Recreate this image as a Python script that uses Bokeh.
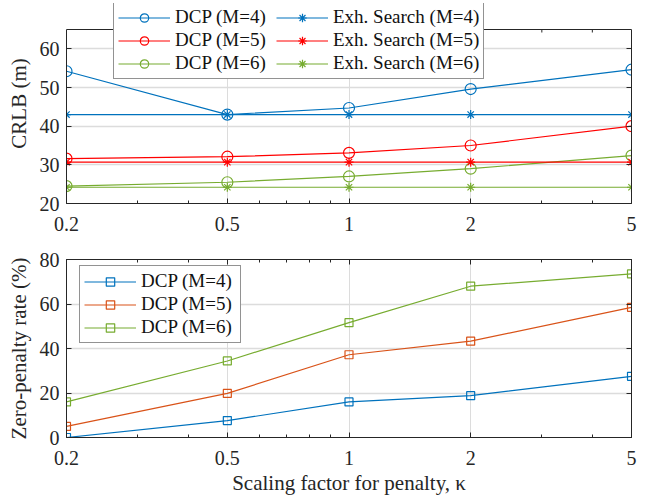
from math import pi
from bokeh.plotting import figure
from bokeh.models import (FixedTicker, LogAxis, LinearAxis, Legend, LegendItem,
                          CustomJSTickFormatter, Span)
from bokeh.layouts import column
from bokeh.embed import file_html
from bokeh.resources import INLINE

# ---------------- data ----------------
kappa = [0.2, 0.5, 1, 2, 5]
kappa_minor = [0.3, 0.4, 0.6, 0.7, 0.8, 0.9, 3, 4]

crlb_dcp_m4 = [54.2, 43.0, 44.7, 49.6, 54.6]
crlb_dcp_m5 = [31.6, 32.1, 33.1, 35.0, 40.0]
crlb_dcp_m6 = [24.5, 25.5, 27.0, 29.0, 32.4]
crlb_exh_m4 = [43.0, 43.0, 43.0, 43.0, 43.0]
crlb_exh_m5 = [30.7, 30.7, 30.7, 30.7, 30.7]
crlb_exh_m6 = [24.2, 24.2, 24.2, 24.2, 24.2]

zp_m4 = [0.0, 7.6, 16.0, 18.8, 27.5]
zp_m5 = [5.0, 19.8, 37.2, 43.3, 58.5]
zp_m6 = [16.0, 34.4, 51.6, 68.0, 73.5]

crlb_ticks = [20, 30, 40, 50, 60]
crlb_lim = (20, 65)
zp_ticks = [0, 20, 40, 60, 80]
zp_lim = (0, 80)

BLUE, RED, GREEN, ORANGE = "#0072BD", "#FF0000", "#77AC30", "#D95319"
FONT = "Liberation Serif"
TXT = "#262626"
GRID = "#dcdcdc"

fmt = CustomJSTickFormatter(code="return String(tick);")
blank = CustomJSTickFormatter(code="return '';")


def style_axis(ax, hide_labels=False):
    ax.major_label_text_font = FONT
    ax.major_label_text_font_size = "20px"
    ax.major_label_text_color = TXT
    ax.major_label_standoff = 0 if hide_labels else 7
    ax.axis_label_text_font = FONT
    ax.axis_label_text_font_size = "21px"
    ax.axis_label_text_font_style = "normal"
    ax.axis_label_text_color = TXT
    ax.axis_line_color = TXT
    ax.major_tick_line_color = TXT
    ax.minor_tick_line_color = TXT
    ax.major_tick_in = 5
    ax.major_tick_out = 0
    ax.minor_tick_in = 3
    ax.minor_tick_out = 0
    if hide_labels:
        ax.formatter = blank


def base_fig(y_end, yticks, frame_h, top, bottom, ylabel):
    p = figure(x_axis_type="log", x_range=(kappa[0], kappa[-1]),
               y_range=(yticks[0], y_end),
               frame_width=565, frame_height=frame_h,
               min_border_left=66, min_border_right=18,
               min_border_top=top, min_border_bottom=bottom,
               output_backend="svg", toolbar_location=None)
    xt = FixedTicker(ticks=kappa, minor_ticks=kappa_minor)
    yt = FixedTicker(ticks=yticks, minor_ticks=[])
    p.xaxis.ticker = xt
    p.xaxis.formatter = fmt
    p.yaxis.ticker = yt
    p.ygrid.ticker = yt
    for ax in list(p.xaxis) + list(p.yaxis):
        style_axis(ax)
    p.xaxis.major_label_standoff = 13
    p.yaxis.axis_label = ylabel
    p.yaxis.axis_label_standoff = 6
    p.yaxis.minor_tick_line_color = None
    p.xgrid.grid_line_color = GRID
    p.xgrid.grid_line_width = 1
    p.ygrid.grid_line_color = GRID
    p.ygrid.grid_line_width = 1.5
    p.background_fill_color = "white"
    p.border_fill_color = "white"
    ra = LinearAxis(ticker=yt)
    style_axis(ra, hide_labels=True)
    ra.minor_tick_line_color = None
    p.add_layout(ra, "right")
    return p, xt, yt, ra


def style_legend(lg, label_w):
    lg.label_text_font = FONT
    lg.label_text_font_size = "19px"
    lg.label_text_color = "#111111"
    lg.border_line_color = TXT
    lg.border_line_width = 1
    lg.background_fill_color = "white"
    lg.background_fill_alpha = 1.0
    lg.glyph_width = 52
    lg.glyph_height = 21
    lg.label_height = 21
    lg.label_width = label_w
    lg.label_standoff = 5
    lg.spacing = 1
    lg.padding = 4
    lg.margin = 0


# ---------------- top: CRLB ----------------
# frame extends 26 px above the axes box so the legend can overlap the box top
top_frame_h = 200
box_h = 174
crlb_y_end = crlb_lim[0] + (crlb_lim[1] - crlb_lim[0]) * top_frame_h / box_h
p1, xt1, yt1, ra1 = base_fig(crlb_y_end, crlb_ticks, top_frame_h, 3, 33, "CRLB (m)")
p1.outline_line_color = None
p1.yaxis[0].bounds = crlb_lim
ra1.bounds = crlb_lim
p1.xgrid.ticker = FixedTicker(ticks=kappa[1:-1], minor_ticks=[])
p1.add_layout(Span(location=crlb_lim[1], dimension="width", line_color=TXT, line_width=1))
p1.ray(x=kappa, y=crlb_lim[1], length=5, length_units="screen", angle=-pi / 2,
       line_color=TXT, line_width=1)
p1.ray(x=kappa_minor, y=crlb_lim[1], length=3, length_units="screen", angle=-pi / 2,
       line_color=TXT, line_width=1)

items_dcp, items_exh = [], []
for ys, col, m in [(crlb_dcp_m4, BLUE, 4), (crlb_dcp_m5, RED, 5), (crlb_dcp_m6, GREEN, 6)]:
    l = p1.line(kappa, ys, line_color=col, line_width=1.2)
    s = p1.scatter(kappa, ys, marker="circle", size=11, fill_color=None,
                   line_color=col, line_width=1.2)
    items_dcp.append(LegendItem(label=f"DCP (M={m})", renderers=[l, s]))
for ys, col, m in [(crlb_exh_m4, BLUE, 4), (crlb_exh_m5, RED, 5), (crlb_exh_m6, GREEN, 6)]:
    l = p1.line(kappa, ys, line_color=col, line_width=1.2)
    s = p1.scatter(kappa, ys, marker="asterisk", size=9, line_color=col, line_width=1.2)
    items_exh.append(LegendItem(label=f"Exh. Search (M={m})", renderers=[l, s]))
lg1 = Legend(items=items_dcp + items_exh, location=(47, 124), ncols=2)
style_legend(lg1, 100)
p1.add_layout(lg1, "center")

# ---------------- bottom: zero-penalty rate ----------------
p2, xt2, yt2, ra2 = base_fig(zp_lim[1], zp_ticks, 178, 23, 59, "Zero-penalty rate (%)")
p2.xgrid.ticker = xt2
p2.outline_line_color = TXT
p2.xaxis[0].axis_label = "Scaling factor for penalty, κ"
p2.xaxis[0].axis_label_standoff = 3
ta2 = LogAxis(ticker=xt2)
style_axis(ta2, hide_labels=True)
p2.add_layout(ta2, "above")

items2 = []
for ys, col, m in [(zp_m4, BLUE, 4), (zp_m5, ORANGE, 5), (zp_m6, GREEN, 6)]:
    l = p2.line(kappa, ys, line_color=col, line_width=1.2)
    s = p2.scatter(kappa, ys, marker="square", size=8, fill_color=None,
                   line_color=col, line_width=1.2)
    items2.append(LegendItem(label=f"DCP (M={m})", renderers=[l, s]))
lg2 = Legend(items=items2, location=(13, 94))
style_legend(lg2, 95)
p2.add_layout(lg2, "center")

layout = column(p1, p2, spacing=0)
open("out.html", "w").write(file_html(layout, INLINE))
